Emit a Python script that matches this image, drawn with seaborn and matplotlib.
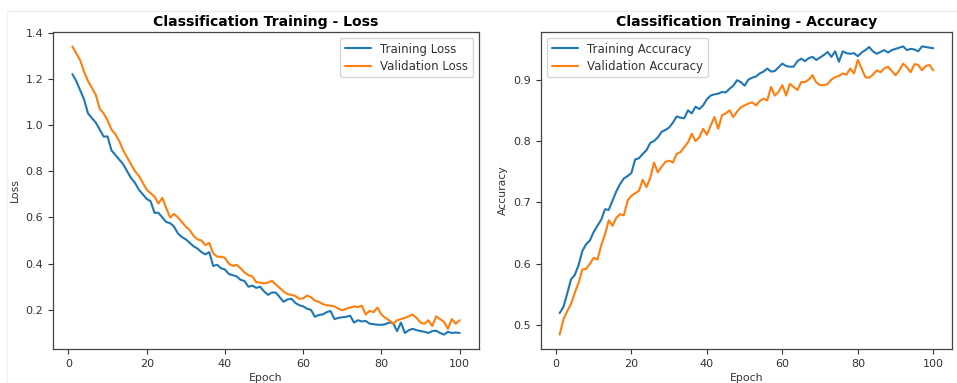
import matplotlib
matplotlib.use("Agg")
import matplotlib.pyplot as plt
from matplotlib.lines import Line2D
import seaborn as sns
import numpy as np
import pandas as pd

epochs = list(range(1, 101))

train_loss = [1.22, 1.19, 1.15, 1.11, 1.05, 1.03, 1.01, 0.98, 0.95, 0.95,
              0.89, 0.87, 0.85, 0.83, 0.80, 0.77, 0.75, 0.72, 0.70, 0.68,
              0.67, 0.62, 0.62, 0.60, 0.58, 0.575, 0.56, 0.53, 0.515, 0.505,
              0.49, 0.475, 0.465, 0.45, 0.44, 0.45, 0.39, 0.395, 0.38, 0.375,
              0.355, 0.35, 0.345, 0.33, 0.325, 0.30, 0.305, 0.295, 0.30, 0.28,
              0.265, 0.275, 0.275, 0.255, 0.235, 0.245, 0.248, 0.23, 0.22, 0.215,
              0.205, 0.20, 0.17, 0.178, 0.18, 0.19, 0.195, 0.16, 0.165, 0.168,
              0.17, 0.175, 0.145, 0.155, 0.15, 0.152, 0.14, 0.138, 0.136, 0.135,
              0.138, 0.145, 0.143, 0.108, 0.145, 0.10, 0.112, 0.118, 0.112, 0.108,
              0.105, 0.10, 0.108, 0.11, 0.10, 0.093, 0.105, 0.10, 0.102, 0.10]

val_loss = [1.34, 1.31, 1.28, 1.23, 1.19, 1.16, 1.13, 1.07, 1.05, 1.02,
            0.98, 0.96, 0.93, 0.89, 0.86, 0.83, 0.80, 0.78, 0.75, 0.72,
            0.705, 0.69, 0.66, 0.685, 0.64, 0.60, 0.615, 0.60, 0.58, 0.56,
            0.545, 0.52, 0.505, 0.50, 0.48, 0.49, 0.445, 0.43, 0.43, 0.425,
            0.40, 0.39, 0.395, 0.38, 0.362, 0.35, 0.345, 0.32, 0.318, 0.315,
            0.318, 0.326, 0.31, 0.295, 0.28, 0.268, 0.265, 0.26, 0.248, 0.25,
            0.262, 0.255, 0.24, 0.235, 0.225, 0.22, 0.218, 0.215, 0.205, 0.198,
            0.205, 0.21, 0.215, 0.212, 0.218, 0.18, 0.196, 0.19, 0.21, 0.18,
            0.165, 0.155, 0.14, 0.155, 0.16, 0.165, 0.172, 0.18, 0.165, 0.145,
            0.14, 0.155, 0.13, 0.172, 0.16, 0.148, 0.118, 0.16, 0.14, 0.155]

train_acc = [0.520, 0.530, 0.552, 0.575, 0.582, 0.598, 0.621, 0.632, 0.638, 0.652,
             0.662, 0.672, 0.689, 0.688, 0.703, 0.718, 0.730, 0.739, 0.743, 0.748,
             0.770, 0.772, 0.779, 0.785, 0.797, 0.800, 0.806, 0.815, 0.818, 0.822,
             0.830, 0.840, 0.838, 0.837, 0.850, 0.845, 0.856, 0.852, 0.858, 0.868,
             0.874, 0.876, 0.877, 0.880, 0.879, 0.885, 0.890, 0.899, 0.896, 0.890,
             0.900, 0.903, 0.905, 0.910, 0.913, 0.918, 0.913, 0.914, 0.920, 0.926,
             0.922, 0.921, 0.921, 0.930, 0.934, 0.930, 0.935, 0.937, 0.932, 0.936,
             0.940, 0.945, 0.937, 0.946, 0.929, 0.946, 0.943, 0.942, 0.943, 0.938,
             0.944, 0.948, 0.953, 0.946, 0.942, 0.945, 0.948, 0.944, 0.948, 0.950,
             0.952, 0.954, 0.948, 0.950, 0.949, 0.946, 0.954, 0.953, 0.952, 0.951]

val_acc = [0.485, 0.510, 0.523, 0.535, 0.553, 0.569, 0.591, 0.592, 0.600, 0.610,
           0.607, 0.630, 0.648, 0.671, 0.662, 0.675, 0.681, 0.679, 0.703, 0.711,
           0.715, 0.719, 0.737, 0.725, 0.740, 0.765, 0.749, 0.758, 0.766, 0.768,
           0.765, 0.779, 0.782, 0.790, 0.798, 0.812, 0.800, 0.806, 0.820, 0.810,
           0.825, 0.839, 0.820, 0.842, 0.845, 0.850, 0.839, 0.848, 0.855, 0.858,
           0.861, 0.863, 0.858, 0.865, 0.869, 0.866, 0.888, 0.874, 0.880, 0.891,
           0.874, 0.893, 0.888, 0.883, 0.896, 0.896, 0.900, 0.907, 0.895, 0.891,
           0.891, 0.893, 0.900, 0.904, 0.906, 0.910, 0.908, 0.918, 0.910, 0.932,
           0.918, 0.904, 0.903, 0.908, 0.915, 0.912, 0.918, 0.921, 0.914, 0.907,
           0.915, 0.926, 0.920, 0.912, 0.925, 0.924, 0.915, 0.922, 0.924, 0.915]

titles = ["Classification Training - Loss", "Classification Training - Accuracy"]
ylabels = ["Loss", "Accuracy"]
loss_labels = ["Training Loss", "Validation Loss"]
acc_labels = ["Training Accuracy", "Validation Accuracy"]

sns.set_style("ticks")
plt.rcParams['font.family'] = ['DejaVu Sans']

blue = "#1f77b4"
orange = "#ff7f0e"

fig = plt.figure(figsize=(9.57, 3.83), dpi=100)
W, H = 957, 383
ax1 = fig.add_axes([53 / W, 1 - 349 / H, 426 / W, 317 / H])
ax2 = fig.add_axes([541 / W, 1 - 349 / H, 411 / W, 317 / H])

# faint screenshot border
fig.add_artist(Line2D([7 / W, 1], [1 - 11 / H, 1 - 11 / H], transform=fig.transFigure,
                      color="#ebebeb", linewidth=1))
fig.add_artist(Line2D([7 / W, 7 / W], [0, 1 - 11 / H], transform=fig.transFigure,
                      color="#f2f2f2", linewidth=1))

df_loss = pd.DataFrame({"Epoch": epochs, "train": train_loss, "val": val_loss})
df_acc = pd.DataFrame({"Epoch": epochs, "train": train_acc, "val": val_acc})

sns.lineplot(data=df_loss, x="Epoch", y="train", ax=ax1, color=blue, label=loss_labels[0], linewidth=1.5)
sns.lineplot(data=df_loss, x="Epoch", y="val", ax=ax1, color=orange, label=loss_labels[1], linewidth=1.5)
sns.lineplot(data=df_acc, x="Epoch", y="train", ax=ax2, color=blue, label=acc_labels[0], linewidth=1.5)
sns.lineplot(data=df_acc, x="Epoch", y="val", ax=ax2, color=orange, label=acc_labels[1], linewidth=1.5)

for ax, t, yl, loc in zip([ax1, ax2], titles, ylabels, ["upper right", "upper left"]):
    ax.set_title(t, fontsize=10.1, fontweight="bold", color="black", pad=4)
    ax.set_xlabel("Epoch", fontsize=7.8, color="#333333", labelpad=3)
    ax.set_ylabel(yl, fontsize=7.8, color="#333333")
    ax.tick_params(labelsize=8, colors="#333333", length=3.5, width=0.8)
    for s in ax.spines.values():
        s.set_color("#444444")
        s.set_linewidth(0.9)
    ax.set_xticks([0, 20, 40, 60, 80, 100])
    ax.margins(x=0.05, y=0.05)
    leg = ax.legend(loc=loc, fontsize=8.5, frameon=True, fancybox=True, framealpha=0.8,
                    edgecolor="#cccccc", handlelength=2.2, borderpad=0.4, labelspacing=0.35)
    for txt in leg.get_texts():
        txt.set_color("#333333")

ax1.set_yticks([0.2, 0.4, 0.6, 0.8, 1.0, 1.2, 1.4])
ax2.set_yticks([0.5, 0.6, 0.7, 0.8, 0.9])

fig.savefig("out.png", dpi=100, facecolor="white")
